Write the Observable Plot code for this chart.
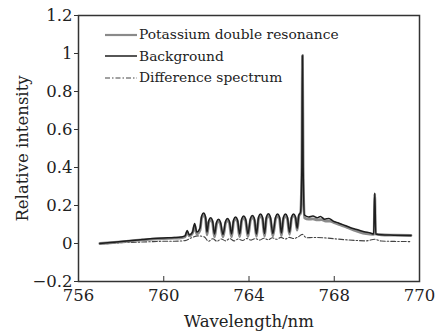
<!DOCTYPE html>
<html>
<head>
<meta charset="utf-8">
<script src="https://cdn.jsdelivr.net/npm/d3@7"></script>
<script src="https://cdn.jsdelivr.net/npm/@observablehq/plot@0.6"></script>
<style>
  html, body { margin: 0; padding: 0; background: #fff; }
  #wrap { position: relative; width: 441px; height: 333px; font-family: "DejaVu Serif", serif; }
  #legend { position: absolute; left: 104px; top: 24px; font-size: 13.8px; color: #222; line-height: 21.5px; }
  #legend .row { display: flex; align-items: center; white-space: nowrap; }
  #legend svg { width: 34px; height: 10px; margin-right: 1px; }
</style>
</head>
<body>
<div id="wrap"><div id="legend"></div></div>
<script>
// ---- data ----
const seriesNames = ["Potassium double resonance", "Background", "Difference spectrum"];

const wlK = [757.0,757.5,758.0,758.5,759.0,759.5,760.0,760.5,760.8,761.0,761.1,761.2,761.35,761.45,761.55,
  761.70,761.78,761.87,761.96,762.03,762.11,762.20,762.29,762.38,762.48,762.57,762.66,762.78,762.90,762.99,763.08,
  763.18,763.28,763.37,763.46,763.56,763.66,763.75,763.84,763.95,764.07,764.16,764.25,764.35,764.45,764.54,764.63,
  764.73,764.82,764.91,765.00,765.12,765.25,765.34,765.43,765.52,765.62,765.71,765.80,765.90,766.00,766.09,766.18,
  766.26,766.34,766.42,766.48,766.51,766.54,766.6,766.8,767.0,767.2,767.4,767.6,767.8,768.0,768.3,768.6,768.9,
  769.2,769.5,769.8,769.87,769.9,769.93,770.2,770.8,771.6];
const valK = [0.000,0.004,0.009,0.014,0.019,0.023,0.026,0.028,0.030,0.036,0.060,0.040,0.055,0.095,0.050,
  0.070,0.135,0.150,0.130,0.045,0.110,0.125,0.110,0.035,0.103,0.118,0.103,0.035,0.107,0.122,0.107,
  0.035,0.115,0.130,0.115,0.036,0.120,0.135,0.120,0.036,0.123,0.138,0.123,0.037,0.130,0.145,0.130,
  0.038,0.131,0.146,0.131,0.040,0.130,0.145,0.130,0.042,0.130,0.145,0.130,0.048,0.133,0.148,0.133,
  0.070,0.145,0.160,0.400,0.990,0.400,0.135,0.128,0.130,0.124,0.126,0.118,0.118,0.110,0.098,0.085,0.072,
  0.060,0.052,0.048,0.050,0.260,0.050,0.046,0.044,0.042];

const wlB = [757.0,757.5,758.0,758.5,759.0,759.5,760.0,760.5,760.8,761.0,761.1,761.2,761.35,761.45,761.55,
  761.70,761.78,761.87,761.96,762.03,762.11,762.20,762.29,762.38,762.48,762.57,762.66,762.78,762.90,762.99,763.08,
  763.18,763.28,763.37,763.46,763.56,763.66,763.75,763.84,763.95,764.07,764.16,764.25,764.35,764.45,764.54,764.63,
  764.73,764.82,764.91,765.00,765.12,765.25,765.34,765.43,765.52,765.62,765.71,765.80,765.90,766.00,766.09,766.18,
  766.26,766.34,766.42,766.48,766.51,766.54,766.6,766.8,767.0,767.2,767.35,767.55,767.75,767.95,768.2,768.5,768.8,
  769.1,769.4,769.7,769.85,769.9,769.95,770.2,770.8,771.6];
const valB = [0.000,0.005,0.010,0.016,0.021,0.026,0.029,0.031,0.034,0.040,0.068,0.045,0.060,0.105,0.060,
  0.080,0.145,0.160,0.140,0.060,0.120,0.135,0.120,0.050,0.113,0.128,0.113,0.048,0.117,0.132,0.117,
  0.050,0.125,0.140,0.125,0.050,0.130,0.145,0.130,0.050,0.133,0.148,0.133,0.050,0.140,0.155,0.140,
  0.052,0.141,0.156,0.141,0.052,0.140,0.155,0.140,0.055,0.140,0.155,0.140,0.060,0.140,0.155,0.140,
  0.080,0.150,0.165,0.400,0.990,0.400,0.150,0.140,0.145,0.135,0.142,0.128,0.132,0.118,0.108,0.095,0.082,
  0.072,0.062,0.055,0.050,0.265,0.050,0.046,0.044,0.042];

const wlD = [757.0,757.5,758.0,758.5,759.0,759.5,760.0,760.5,761.0,761.3,761.6,761.9,762.1,762.3,762.5,762.7,762.9,763.1,763.3,763.5,763.7,763.9,764.1,764.3,764.5,764.7,764.9,765.1,765.3,765.5,765.7,765.9,766.1,766.3,766.5,766.7,767.0,767.5,768.0,768.5,769.0,769.5,769.9,770.2,770.8,771.6];
const valD = [-0.002,0.000,0.004,0.006,0.008,0.010,0.012,0.012,0.015,0.030,0.040,0.035,0.012,0.025,0.012,0.024,0.014,0.026,0.014,0.024,0.016,0.026,0.018,0.026,0.018,0.028,0.020,0.030,0.022,0.032,0.024,0.032,0.026,0.034,0.048,0.030,0.032,0.030,0.025,0.020,0.016,0.014,0.022,0.013,0.011,0.010];

const xTicks = [756, 760, 764, 768, 772];
const xTickLabels = ["756", "760", "764", "768", "770"];
const yTicks = [-0.2, 0, 0.2, 0.4, 0.6, 0.8, 1, 1.2];
const yTickLabels = ["\u22120.2", "0", "0.2", "0.4", "0.6", "0.8", "1", "1.2"];

// ---- styles ----
const styles = [
  {stroke: "#8a8a8a", strokeWidth: 2.8, dash: null},
  {stroke: "#1e1e1e", strokeWidth: 1.5, dash: null},
  {stroke: "#444", strokeWidth: 1.1, dash: "5,2,1.5,2"}
];

const toRows = (w, v) => w.map((x, i) => ({x, y: v[i]}));
const rowsK = toRows(wlK, valK);
const rowsB = toRows(wlB, valB);
const rowsD = toRows(wlD, valD);

const chart = Plot.plot({
  width: 441,
  height: 333,
  marginLeft: 78,
  marginRight: 22,
  marginTop: 15,
  marginBottom: 52,
  style: {fontFamily: "DejaVu Serif, serif", fontSize: "16.5px", color: "#222", background: "white", overflow: "visible"},
  x: {domain: [756, 772]},
  y: {domain: [-0.2, 1.2]},
  marks: [
    Plot.line(rowsD, {x: "x", y: "y", stroke: styles[2].stroke, strokeWidth: styles[2].strokeWidth, strokeDasharray: styles[2].dash, curve: "monotone-x"}),
    Plot.line(rowsK, {x: "x", y: "y", stroke: styles[0].stroke, strokeWidth: styles[0].strokeWidth, curve: "monotone-x"}),
    Plot.line(rowsB, {x: "x", y: "y", stroke: styles[1].stroke, strokeWidth: styles[1].strokeWidth, curve: "monotone-x"}),
    Plot.frame({stroke: "#333", strokeWidth: 1.5}),
    Plot.axisX({ticks: xTicks.slice(1, -1), tickSize: -5, text: null, label: null, stroke: "#333"}),
    Plot.axisX({ticks: xTicks, tickSize: 0, tickPadding: 8, tickFormat: d => xTickLabels[xTicks.indexOf(d)],
      label: "Wavelength/nm", labelAnchor: "center", labelArrow: "none", labelOffset: 45}),
    Plot.axisY({ticks: yTicks, tickSize: 4, tickPadding: 2, stroke: "#333", tickFormat: d => yTickLabels[yTicks.indexOf(d)],
      label: "Relative intensity", labelAnchor: "center", labelArrow: "none", labelOffset: 62})
  ]
});
document.getElementById("wrap").prepend(chart);

// ---- legend ----
const legend = d3.select("#legend");
seriesNames.forEach((name, i) => {
  const row = legend.append("div").attr("class", "row");
  const svg = row.append("svg");
  svg.append("line").attr("x1", 1).attr("x2", 33).attr("y1", 5).attr("y2", 5)
    .attr("stroke", styles[i].stroke).attr("stroke-width", Math.min(styles[i].strokeWidth, 2.2))
    .attr("stroke-dasharray", styles[i].dash);
  row.append("span").text(name);
});
</script>
</body>
</html>
